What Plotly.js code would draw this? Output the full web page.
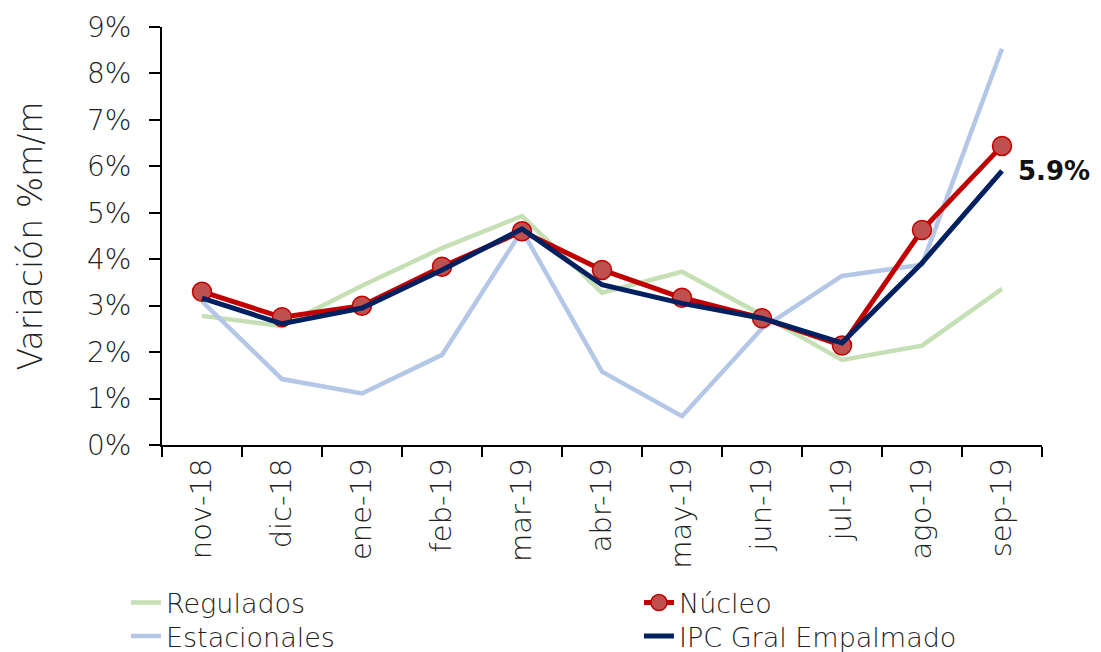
<!DOCTYPE html>
<html><head><meta charset="utf-8">
<script src="https://cdn.plot.ly/plotly-3.0.1.min.js"></script>
<style>html,body{margin:0;padding:0;background:#fff}#chart{width:1101px;height:652px}</style>
</head><body><div id="chart"></div>
<script>
const categories = ["nov-18","dic-18","ene-19","feb-19","mar-19","abr-19","may-19","jun-19","jul-19","ago-19","sep-19"];
const regulados    = [2.78, 2.56, 3.43, 4.24, 4.93, 3.28, 3.73, 2.80, 1.83, 2.14, 3.36];
const estacionales = [3.09, 1.42, 1.11, 1.94, 4.62, 1.58, 0.62, 2.51, 3.64, 3.88, 8.53];
const nucleo       = [3.30, 2.75, 3.00, 3.84, 4.60, 3.77, 3.17, 2.73, 2.14, 4.63, 6.44];
const ipc          = [3.16, 2.61, 2.95, 3.77, 4.65, 3.45, 3.05, 2.73, 2.20, 3.92, 5.90];
const yTicks = [0,1,2,3,4,5,6,7,8,9];
const yTickText = yTicks.map(v => v + "%");

const F = "'DejaVu Sans', sans-serif";
const W = 200;
const traces = [
  {x: categories, y: regulados, name: "Regulados", mode: "lines", legend: "legend",
   line: {color: "#C5E0B4", width: 4.5}},
  {x: categories, y: estacionales, name: "Estacionales", mode: "lines", legend: "legend3",
   line: {color: "#B4C7E7", width: 4.5}},
  {x: categories, y: nucleo, name: "Núcleo", mode: "lines+markers", legend: "legend2",
   line: {color: "#C00000", width: 5},
   marker: {size: 19, color: "#C0504D", line: {color: "#C00000", width: 1.5}}},
  {x: categories, y: ipc, name: "IPC Gral Empalmado", mode: "lines", legend: "legend4",
   line: {color: "#002060", width: 5}}
];
const legBase = {orientation: "v", yanchor: "middle", xanchor: "left", bgcolor: "rgba(0,0,0,0)",
  font: {size: 27, family: F, weight: W, color: "#222"}, tracegroupgap: 0, itemwidth: 30};
const c1 = -0.041, c2 = 0.542, r1 = -0.378, r2 = -0.458;
const layout = {
  width: 1101, height: 652,
  margin: {l: 162, r: 59, t: 27, b: 207, autoexpand: false},
  paper_bgcolor: "#fff", plot_bgcolor: "#fff",
  font: {family: F, color: "#222", size: 25, weight: W},
  showlegend: true,
  legend:  Object.assign({}, legBase, {x: c1, y: r1}),
  legend2: Object.assign({}, legBase, {x: c2, y: r1}),
  legend3: Object.assign({}, legBase, {x: c1, y: r2}),
  legend4: Object.assign({}, legBase, {x: c2, y: r2}),
  xaxis: {type: "category", showline: true, linecolor: "#000", linewidth: 2,
    showgrid: false, ticks: "outside", ticklen: 10, tickwidth: 2, tickcolor: "#000",
    tickson: "boundaries", tickangle: -90, tickfont: {size: 29, family: F, weight: W},
    range: [-0.5, 10.5], fixedrange: true},
  yaxis: {range: [0, 9], tickvals: yTicks, ticktext: yTickText, showline: true,
    linecolor: "#000", linewidth: 2, showgrid: false, zeroline: false,
    ticks: "outside", ticklen: 11, tickwidth: 2, tickcolor: "#000",
    ticklabelstandoff: 12,
    tickfont: {size: 28, family: F, weight: W},
    title: {text: "Variación %m/m", font: {size: 33, family: F, weight: W}, standoff: 34}},
  annotations: [{x: categories[10], y: ipc[10], xref: "x", yref: "y",
    text: "<b>" + ipc[10].toFixed(1) + "%</b>", showarrow: false, xanchor: "left",
    yanchor: "middle", xshift: 14, font: {size: 26, family: F, color: "#111"}}]
};
Plotly.newPlot("chart", traces, layout, {displayModeBar: false, staticPlot: true});
</script></body></html>
